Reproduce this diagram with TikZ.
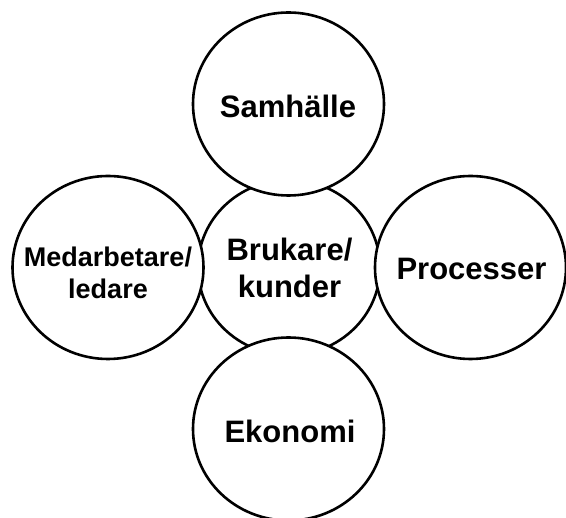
\documentclass[tikz,border=0pt]{standalone}
\usepackage{fontspec}
\setmainfont{Liberation Sans}
\usepackage{tikz}
\usetikzlibrary{shapes.geometric}

\tikzset{
  bubble/.style={ellipse, draw, line width=2.6pt, fill=white,
    minimum width=191pt, minimum height=183pt, inner sep=0pt},
  word/.style={font=\bfseries\fontsize{31}{37}\selectfont, align=center, inner sep=0pt}
}

\begin{document}
\begin{tikzpicture}[x=1pt, y=-1pt]
    \useasboundingbox (0,0) rectangle (566,518);

    \node[bubble, minimum width=182pt, minimum height=175pt] (hub) at (289, 267.5) {};
    \node[bubble] (staff) at (108, 267.5) {};
    \node[bubble] (proc) at (470.5, 267.5) {};
    \node[bubble] (soc) at (288.5, 104) {};
    \node[bubble] (econ) at (288.5, 429) {};

    \node[word] (hub-txt) at (289.5, 267.5) {Brukare/\\kunder};
    \node[word, font=\bfseries\fontsize{27}{32}\selectfont] (staff-txt) at (108, 273) {Medarbetare/\\ledare};
    \node[word] (proc-txt) at (471.5, 269) {Processer};
    \node[word] (soc-txt) at (288, 106) {Samhälle};
    \node[word] (econ-txt) at (290, 431) {Ekonomi};
\end{tikzpicture}
\end{document}
